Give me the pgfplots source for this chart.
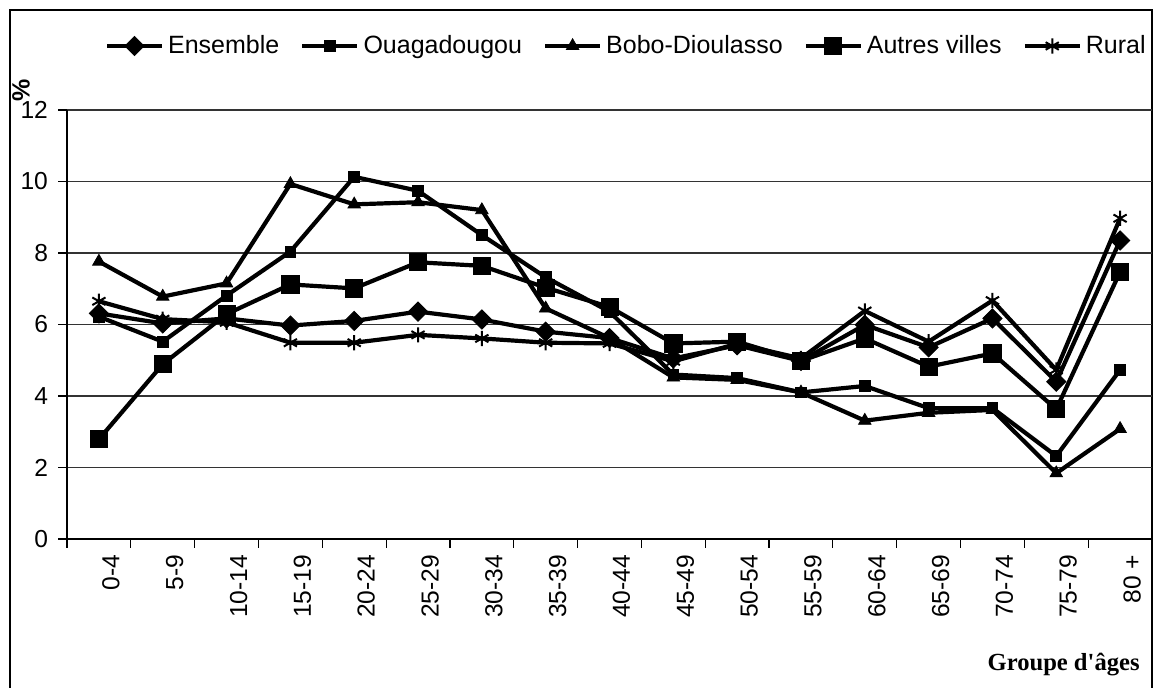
\documentclass[border=0pt]{standalone}
\usepackage{pgfplots}
\pgfplotsset{compat=1.18}
\usepackage{fontspec}
\setmainfont{Liberation Sans}
\newfontfamily\timesfont{Liberation Serif}
\begin{document}
\begin{tikzpicture}
\path[use as bounding box] (0,0) rectangle (577.5pt,344pt);
\draw[line width=1.3pt] (5pt,-2pt) -- (5pt,339pt) -- (576pt,339pt) -- (576pt,-2pt);
\begin{axis}[
  at={(33.5pt,74.5pt)}, anchor=south west,
  scale only axis, width=542.5pt, height=214.5pt,
  xmin=-0.5, xmax=16.5, ymin=0, ymax=12,
  axis x line*=bottom, axis y line*=left,
  axis line style={-, black, line width=0.6pt},
  ytick={0,2,...,12},
  xtick={-0.5,0.5,...,16.5},
  x tick label as interval=true,
  xticklabels={0-4,5-9,10-14,15-19,20-24,25-29,30-34,35-39,40-44,45-49,50-54,55-59,60-64,65-69,70-74,75-79,80 +},
  tick align=outside,
  major tick length=4.5pt,
  tick style={black, line width=0.6pt},
  ymajorgrids,
  major grid style={black!80, line width=0.6pt},
  tick label style={font=\fontsize{12.3}{14}\selectfont},
  xticklabel style={rotate=90, anchor=east, yshift=-6pt},
  yticklabel style={xshift=-1.5pt},
  /pgf/number format/assume math mode=true,
  legend columns=5,
  legend style={at={(1,1)}, anchor=east, yshift=32pt, xshift=-1pt, draw=none, fill=none,
    font=\fontsize{12.5}{14}\selectfont, inner sep=0pt,
    /tikz/every even column/.append style={column sep=8.5pt}},
  legend image code/.code={\draw[mark repeat=2,mark phase=2,#1] plot coordinates {(0pt,0pt) (13.75pt,0pt) (27.5pt,0pt)};},
  every axis plot/.append style={black, line width=2.1pt},
  clip=false,
]
\addplot[mark=square*, mark size=3.4pt, mark options={rotate=45, solid, line width=0.4pt}] coordinates {
(0,6.31) (1,6.03) (2,6.17) (3,5.97) (4,6.10) (5,6.36) (6,6.14) (7,5.80) (8,5.62) (9,5.05) (10,5.42) (11,4.98) (12,5.99) (13,5.36) (14,6.17) (15,4.40) (16,8.35)};
\addlegendentry{Ensemble}
\addplot[mark=square*, mark size=2.7pt, mark options={solid, line width=0.4pt}] coordinates {
(0,6.22) (1,5.52) (2,6.81) (3,8.04) (4,10.13) (5,9.74) (6,8.50) (7,7.32) (8,6.36) (9,4.60) (10,4.50) (11,4.10) (12,4.28) (13,3.66) (14,3.66) (15,2.32) (16,4.73)};
\addlegendentry{Ouagadougou}
\addplot[mark=triangle*, mark size=3.6pt, mark options={solid, line width=0.4pt}] coordinates {
(0,7.76) (1,6.78) (2,7.15) (3,9.93) (4,9.36) (5,9.42) (6,9.20) (7,6.45) (8,5.62) (9,4.52) (10,4.45) (11,4.10) (12,3.31) (13,3.53) (14,3.61) (15,1.84) (16,3.08)};
\addlegendentry{Bobo-Dioulasso}
\addplot[mark=square*, mark size=4.3pt, mark options={solid, line width=0.4pt}] coordinates {
(0,2.79) (1,4.89) (2,6.29) (3,7.12) (4,7.01) (5,7.74) (6,7.64) (7,7.03) (8,6.49) (9,5.47) (10,5.52) (11,4.98) (12,5.61) (13,4.82) (14,5.19) (15,3.63) (16,7.47)};
\addlegendentry{Autres villes}
\addplot[mark=asterisk, mark size=3.8pt, mark options={solid, line width=1pt}] coordinates {
(0,6.65) (1,6.15) (2,6.06) (3,5.49) (4,5.49) (5,5.71) (6,5.61) (7,5.49) (8,5.47) (9,4.97) (10,5.46) (11,5.05) (12,6.38) (13,5.52) (14,6.67) (15,4.73) (16,8.97)};
\addlegendentry{Rural}
\end{axis}
\node[rotate=90, font=\bfseries\fontsize{12.5}{14}\selectfont] at (10.5pt,299pt) {\%};
\node[anchor=east, inner sep=0pt, font=\timesfont\bfseries\fontsize{12.3}{14}\selectfont] at (570pt,11.5pt) {Groupe d'âges};
\end{tikzpicture}
\end{document}
